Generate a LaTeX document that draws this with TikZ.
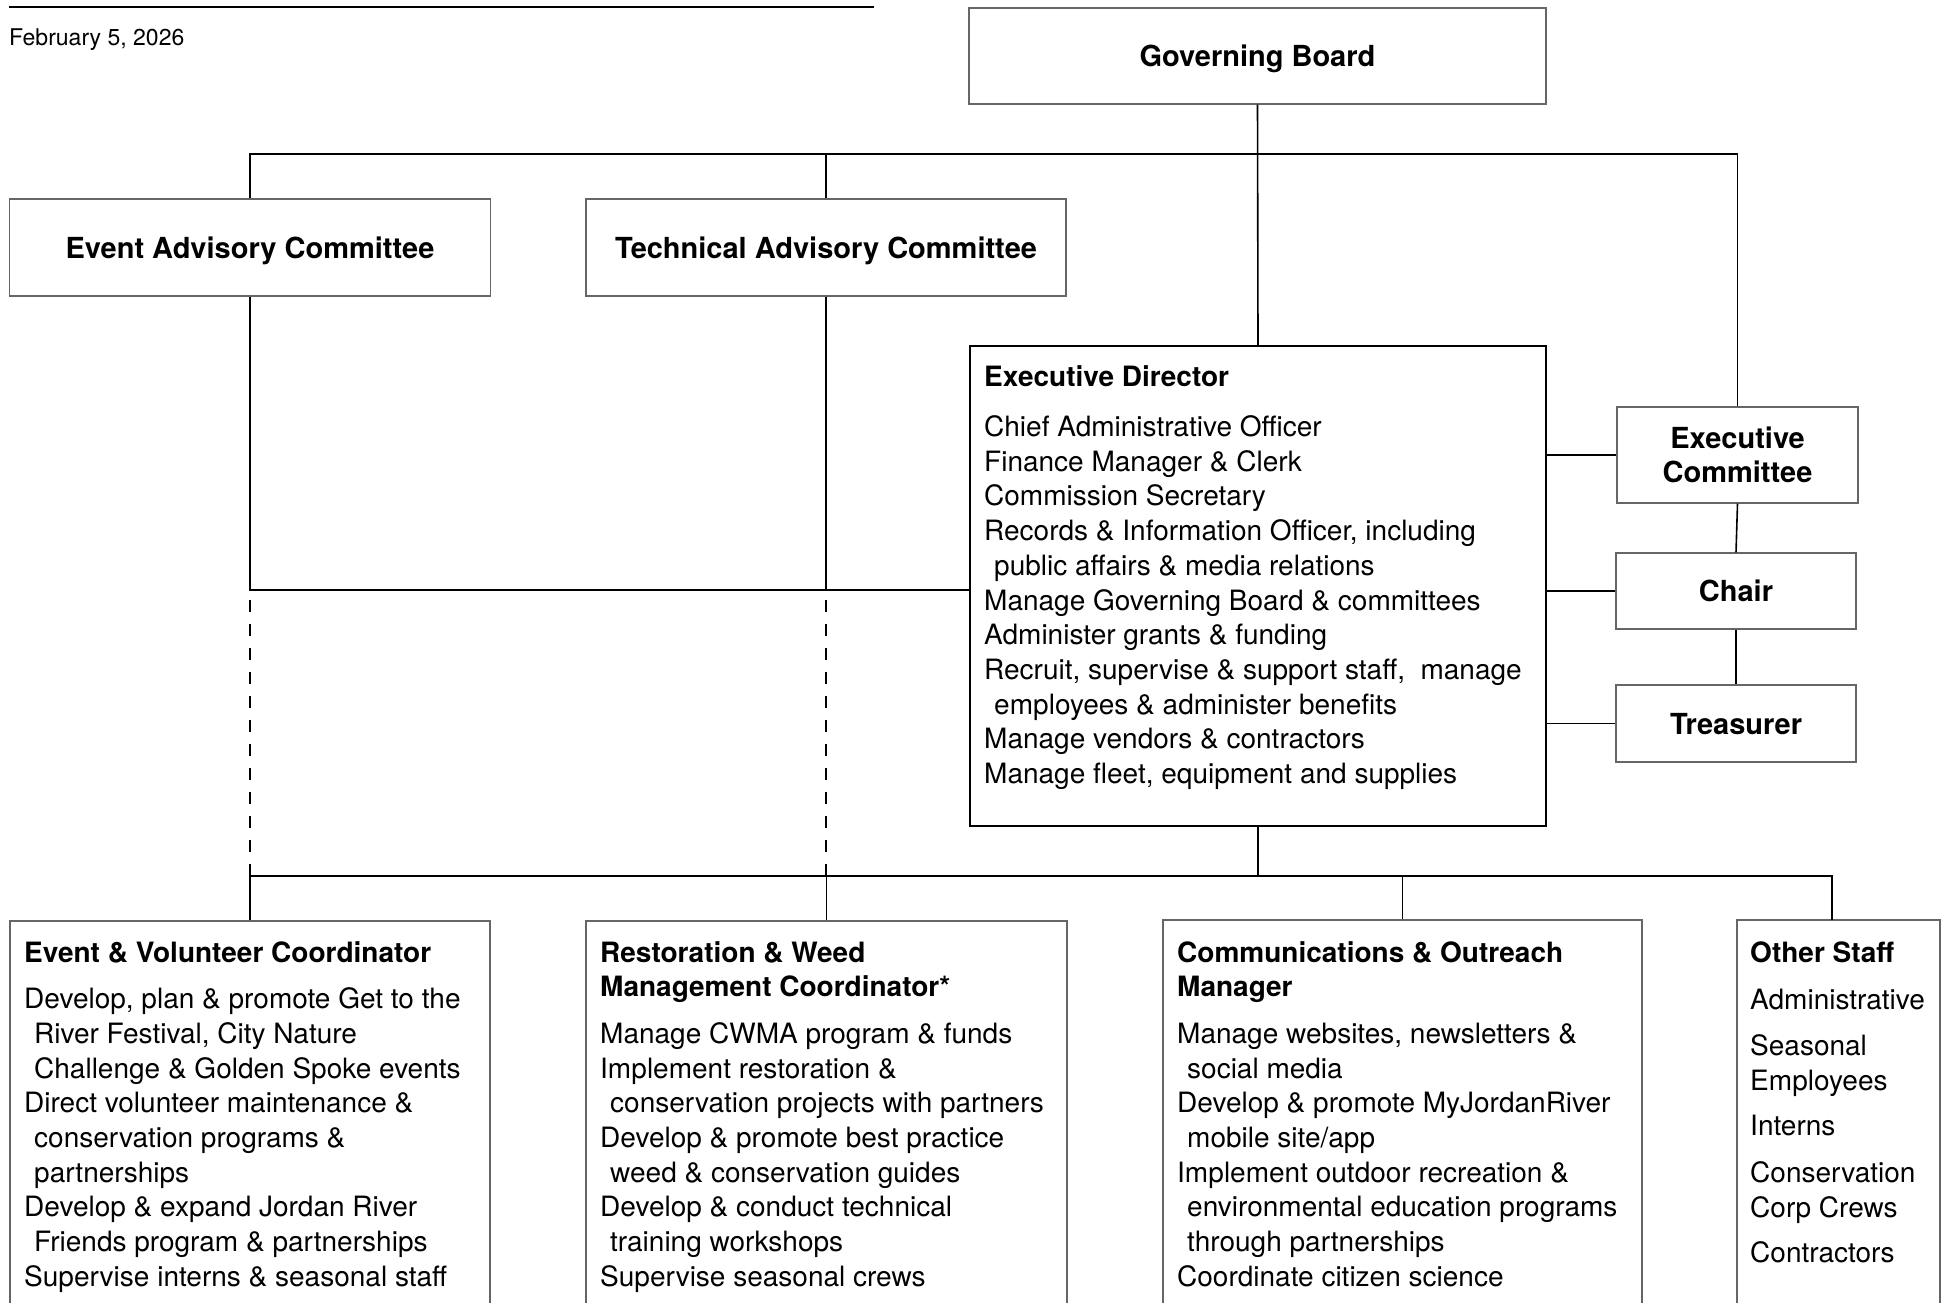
\documentclass[tikz,border=0pt]{standalone}
\usepackage{fontspec}
\setmainfont{TeX Gyre Heros}
\usepackage{tikz}
\usetikzlibrary{positioning,calc}
\definecolor{gris40}{gray}{.40}
\newcommand{\wrapin}{\hspace*{10pt}}

\begin{document}
\begin{tikzpicture}[
    x=1pt, y=-1pt,
    orgbox/.style={rectangle, draw=gris40, line width=1.2pt, inner sep=0pt,
      align=center, font=\fontsize{29}{34}\selectfont\bfseries},
    oneline/.style={text height=21pt, text depth=0pt},
    % anchored at the baseline of the last line
    duties/.style={anchor=base west, inner sep=0pt, align=left,
      font=\fontsize{28}{34.7}\selectfont},
    wire/.style={draw=black, line width=1.6pt},
    dashwire/.style={draw=black, line width=1.8pt, dash pattern=on 12pt off 12pt, dash phase=14pt}
  ]
    \clip (0,0) rectangle (1946,1302);

    % header
    \draw[line width=2.4pt] (9,7) -- (874,7);
    \node[anchor=base west, inner sep=0pt, font=\fontsize{23}{27}\selectfont]
      (fecha) at (9,45) {February 5, 2026};

    % board and committees
    \node[orgbox, oneline, minimum width=577pt, minimum height=96pt] (board) at (1257.5,56) {Governing Board};
    \node[orgbox, oneline, minimum width=481pt, minimum height=97pt] (evadv) at (250,247.5) {Event Advisory Committee};
    \node[orgbox, oneline, minimum width=480pt, minimum height=97pt] (techadv) at (826,247.5) {Technical Advisory Committee};
    \node[orgbox, minimum width=241pt, minimum height=96pt] (execcom) at (1737.5,455) {Executive\\Committee};
    \node[orgbox, oneline, minimum width=240pt, minimum height=76pt] (chair) at (1736,591) {Chair};
    \node[orgbox, oneline, minimum width=240pt, minimum height=77pt] (treas) at (1736,723.5) {Treasurer};

    % executive director
    \node[orgbox, draw=black, minimum width=576pt, minimum height=480pt] (edir) at (1258,586) {};
    \node[duties] (edirtxt) at (984,783.5) {{\bfseries Executive Director}\\[15pt]
      Chief Administrative Officer\\
      Finance Manager \& Clerk\\
      Commission Secretary\\
      Records \& Information Officer, including\\
      \wrapin public affairs \& media relations\\
      Manage Governing Board \& committees\\
      Administer grants \& funding\\
      Recruit, supervise \& support staff,\ \ manage\\
      \wrapin employees \& administer benefits\\
      Manage vendors \& contractors\\
      Manage fleet, equipment and supplies};

    % staff
    \node[orgbox, minimum width=480pt, minimum height=419pt] (evcoord) at (250,1130.5) {};
    \node[orgbox, minimum width=481pt, minimum height=419pt] (restcoord) at (826.5,1130.5) {};
    \node[orgbox, minimum width=479pt, minimum height=420pt] (commmgr) at (1402.5,1130) {};
    \node[orgbox, minimum width=203pt, minimum height=420pt] (otherstaff) at (1838.5,1130) {};

    \node[duties] (evtxt) at (24,1286.3) {{\bfseries Event \& Volunteer Coordinator}\\[12pt]
      Develop, plan \& promote Get to the\\
      \wrapin River Festival, City Nature\\
      \wrapin Challenge \& Golden Spoke events\\
      Direct volunteer maintenance \&\\
      \wrapin conservation programs \&\\
      \wrapin partnerships\\
      Develop \& expand Jordan River\\
      \wrapin Friends program \& partnerships\\
      Supervise interns \& seasonal staff};
    \node[duties] (resttxt) at (600,1286.3) {{\bfseries Restoration \& Weed}\\
      {\bfseries Management Coordinator*}\\[12pt]
      Manage CWMA program \& funds\\
      Implement restoration \&\\
      \wrapin conservation projects with partners\\
      Develop \& promote best practice\\
      \wrapin weed \& conservation guides\\
      Develop \& conduct technical\\
      \wrapin training workshops\\
      Supervise seasonal crews};
    \node[duties] (commtxt) at (1177,1286.3) {{\bfseries Communications \& Outreach}\\
      {\bfseries Manager}\\[12pt]
      Manage websites, newsletters \&\\
      \wrapin social media\\
      Develop \& promote MyJordanRiver\\
      \wrapin mobile site/app\\
      Implement outdoor recreation \&\\
      \wrapin environmental education programs\\
      \wrapin through partnerships\\
      Coordinate citizen science};
    \node[duties] (othertxt) at (1750,1262.9) {{\bfseries Other Staff}\\[13pt]
      Administrative\\[11pt]
      Seasonal\\
      Employees\\[11pt]
      Interns\\[12pt]
      Conservation\\
      Corp Crews\\[11pt]
      Contractors};

    % connectors
    \coordinate (bustop) at (0,154);
    \coordinate (busmid) at (0,590);
    \coordinate (busbot) at (0,876);
    \coordinate (othertop) at (1832,920);

    \draw[wire] (board.south) -- (edir.north);
    \draw[wire] (evadv.north) |- (execcom.north |- bustop) -- (execcom.north);
    \draw[wire] (techadv.north) -- (techadv.north |- bustop);
    \draw[wire] (execcom.south) -- (chair.north);
    \draw[wire] (chair.south) -- (treas.north);
    \draw[wire] (edir.east |- execcom) -- (execcom.west);
    \draw[wire] (edir.east |- chair) -- (chair.west);
    \draw[wire] (edir.east |- treas) -- (treas.west);

    \draw[wire] (evadv.south) -- (evadv.south |- busmid) -- (edir.west |- busmid);
    \draw[wire] (techadv.south) -- (techadv.south |- busmid);
    \draw[dashwire] (evadv.south |- busmid) -- (evadv.south |- busbot);
    \draw[dashwire] (techadv.south |- busmid) -- (techadv.south |- busbot);

    \draw[wire] (edir.south) -- (edir.south |- busbot);
    \draw[wire] (evcoord.north) -- (evcoord.north |- busbot) -- (othertop |- busbot) -- (othertop);
    \draw[wire] (restcoord.north) -- (restcoord.north |- busbot);
    \draw[wire] (commmgr.north) -- (commmgr.north |- busbot);
  \end{tikzpicture}
\end{document}
